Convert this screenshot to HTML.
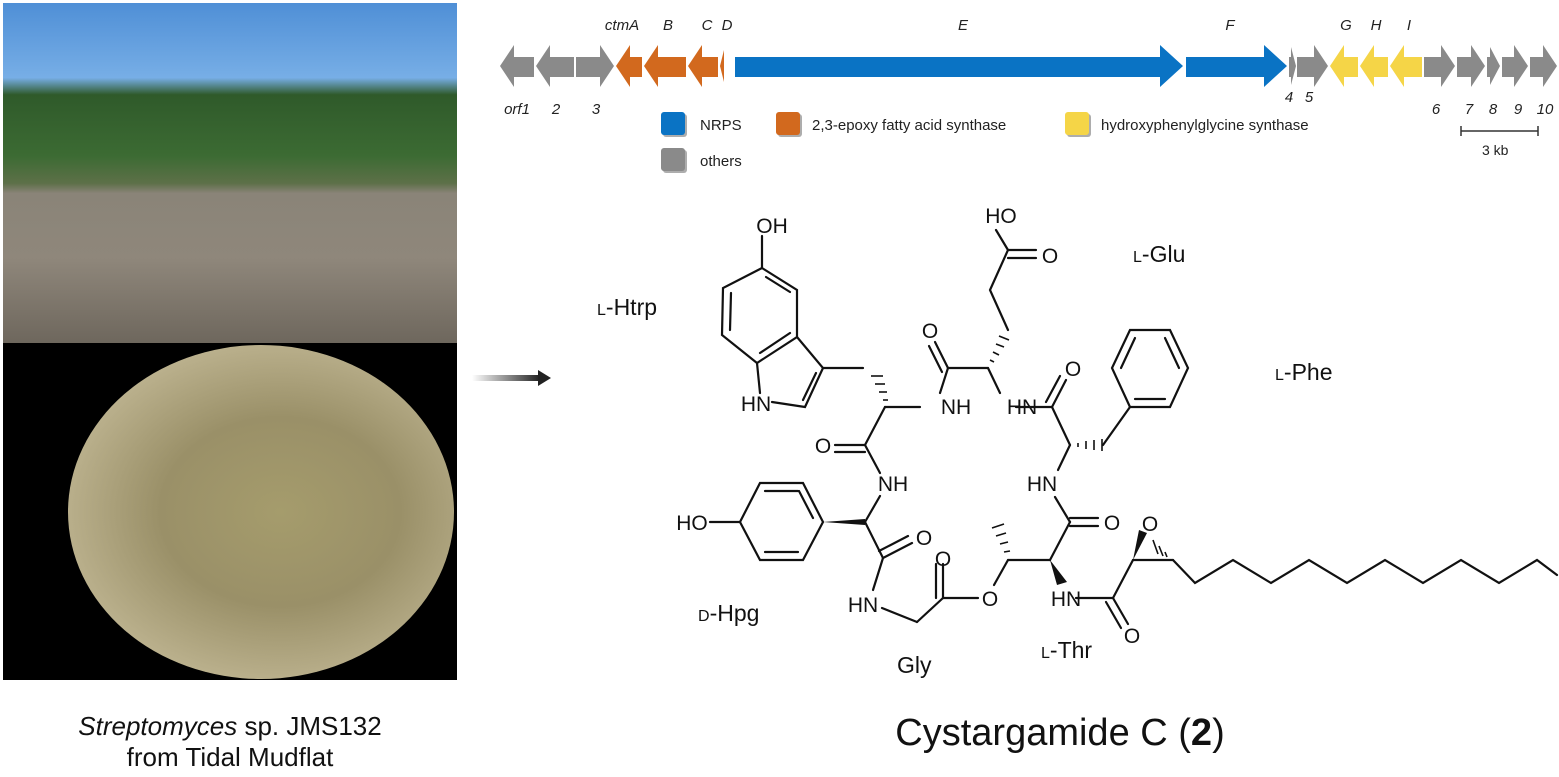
<!DOCTYPE html>
<html><head><meta charset="utf-8"><style>
body{margin:0;width:1559px;height:777px;background:#fff;overflow:hidden;position:relative;font-family:"Liberation Sans",sans-serif}
.ph1{position:absolute;left:3px;top:3px;width:454px;height:340px;background:linear-gradient(180deg,#4f8fd6 0%,#77aee6 22%,#2f5a2a 27%,#3c6b33 45%,#5d7048 53%,#8a8478 56%,#8f877b 75%,#6e675d 100%)}
.ph2{position:absolute;left:3px;top:343px;width:454px;height:337px;background:#000;overflow:hidden}
.dish{position:absolute;left:65px;top:2px;width:386px;height:334px;border-radius:50%;background:radial-gradient(ellipse at 55% 50%,#a59c6c 0%,#9a9068 40%,#b8ae8a 70%,#c9c0a0 88%,#ddd 96%,#888 100%)}
.cap{position:absolute;left:0;width:460px;text-align:center;font-size:26px;color:#111}
</style></head><body>
<div class="ph1"></div>
<div class="ph2"><div class="dish"></div></div>
<div class="cap" style="top:711px"><i>Streptomyces</i> sp. JMS132</div>
<div class="cap" style="top:742px">from Tidal Mudflat</div>
<div style="position:absolute;left:780px;top:712px;width:560px;text-align:center;font-size:38px;color:#111">Cystargamide C (<b>2</b>)</div>
<svg width="1559" height="777" style="position:absolute;left:0;top:0" xmlns="http://www.w3.org/2000/svg">
<defs><linearGradient id="ag" x1="0" x2="1"><stop offset="0" stop-color="#fff"/><stop offset="1" stop-color="#222"/></linearGradient></defs>
<rect x="472" y="375" width="68" height="6" fill="url(#ag)"/>
<polygon points="538,370 551,378 538,386" fill="#222"/>
<g stroke="none">
<g fill="#8a8a8a">
<polygon points="500,66 514,45 514,57 534,57 534,77 514,77 514,87"/>
<polygon points="536,66 550,45 550,57 574,57 574,77 550,77 550,87"/>
<polygon points="576,57 600,57 600,45 614,66 600,87 600,77 576,77"/>
<polygon points="1289,57 1291,57 1291,47 1296,66 1291,85 1291,77 1289,77"/>
<polygon points="1297,57 1314,57 1314,45 1328,66 1314,87 1314,77 1297,77"/>
<polygon points="1424,57 1441,57 1441,45 1455,66 1441,87 1441,77 1424,77"/>
<polygon points="1457,57 1471,57 1471,45 1485,66 1471,87 1471,77 1457,77"/>
<polygon points="1487,57 1490,57 1490,47 1500,66 1490,85 1490,77 1487,77"/>
<polygon points="1502,57 1514,57 1514,45 1528,66 1514,87 1514,77 1502,77"/>
<polygon points="1530,57 1543,57 1543,45 1557,66 1543,87 1543,77 1530,77"/>
</g>
<g fill="#d2691e">
<polygon points="616,66 630,45 630,57 642,57 642,77 630,77 630,87"/>
<polygon points="644,66 658,45 658,57 686,57 686,77 658,77 658,87"/>
<polygon points="688,66 702,45 702,57 718,57 718,77 702,77 702,87"/>
<polygon points="720,66 724,50 724,82"/>
</g>
<g fill="#0a73c4">
<polygon points="735,57 1160,57 1160,45 1183,66 1160,87 1160,77 735,77"/>
<polygon points="1186,57 1264,57 1264,45 1287,66 1264,87 1264,77 1186,77"/>
</g>
<g fill="#f5d547">
<polygon points="1330,66 1344,45 1344,57 1358,57 1358,77 1344,77 1344,87"/>
<polygon points="1360,66 1374,45 1374,57 1388,57 1388,77 1374,77 1374,87"/>
<polygon points="1390,66 1404,45 1404,57 1422,57 1422,77 1404,77 1404,87"/>
</g>
<rect x="663" y="114" width="24" height="23" rx="3" fill="#333" opacity=".4"/>
<rect x="661" y="112" width="24" height="23" rx="3" fill="#0a73c4"/>
<rect x="778" y="114" width="24" height="23" rx="3" fill="#333" opacity=".4"/>
<rect x="776" y="112" width="24" height="23" rx="3" fill="#d2691e"/>
<rect x="1067" y="114" width="24" height="23" rx="3" fill="#333" opacity=".4"/>
<rect x="1065" y="112" width="24" height="23" rx="3" fill="#f5d547"/>
<rect x="663" y="150" width="24" height="23" rx="3" fill="#333" opacity=".4"/>
<rect x="661" y="148" width="24" height="23" rx="3" fill="#8a8a8a"/>
</g>
<g font-family="Liberation Sans, sans-serif" font-size="15" fill="#222">
<text x="700" y="130">NRPS</text>
<text x="812" y="130">2,3-epoxy  fatty  acid  synthase</text>
<text x="1101" y="130">hydroxyphenylglycine  synthase</text>
<text x="700" y="166">others</text>
<text x="1482" y="155" font-size="14">3 kb</text>
</g>
<g stroke="#333" stroke-width="1.5"><line x1="1461" y1="131" x2="1538" y2="131"/><line x1="1461" y1="126" x2="1461" y2="136"/><line x1="1538" y1="126" x2="1538" y2="136"/></g>
<g font-family="Liberation Sans, sans-serif" font-size="15" font-style="italic" fill="#222" text-anchor="middle">
<text x="622" y="30">ctmA</text><text x="668" y="30">B</text><text x="707" y="30">C</text><text x="727" y="30">D</text><text x="963" y="30">E</text><text x="1230" y="30">F</text><text x="1346" y="30">G</text><text x="1376" y="30">H</text><text x="1409" y="30">I</text>
<text x="517" y="114">orf1</text><text x="556" y="114">2</text><text x="596" y="114">3</text><text x="1289" y="102">4</text><text x="1309" y="102">5</text>
<text x="1436" y="114">6</text><text x="1469" y="114">7</text><text x="1493" y="114">8</text><text x="1518" y="114">9</text><text x="1545" y="114">10</text>
</g>
<g stroke="#111" stroke-width="2.2" fill="none" stroke-linecap="round">
<line x1="762" y1="236" x2="762" y2="268"/>
<polyline points="762,268 797,290 797,337 757,363 722,335 723,288 762,268"/>
<line x1="766" y1="277" x2="790" y2="292"/><line x1="790" y1="333" x2="760" y2="353"/><line x1="730" y1="330" x2="731" y2="293"/>
<polyline points="797,337 823,368 805,407 772,402"/>
<line x1="757" y1="363" x2="760" y2="393"/>
<line x1="816" y1="373" x2="803" y2="400"/>
<line x1="823" y1="368" x2="863" y2="368"/>
<line x1="885" y1="407" x2="920" y2="407"/>
<line x1="885" y1="407" x2="865" y2="445"/>
<line x1="865" y1="445" x2="835" y2="445"/><line x1="865" y1="452" x2="835" y2="452"/>
<line x1="865" y1="445" x2="880" y2="473"/>
<line x1="940" y1="393" x2="948" y2="368"/>
<line x1="948" y1="368" x2="988" y2="368"/>
<line x1="948" y1="368" x2="935" y2="342"/><line x1="942" y1="372" x2="929" y2="346"/>
<line x1="988" y1="368" x2="1000" y2="393"/>
<polyline points="1008,330 990,290 1008,250 996,230"/>
<line x1="1008" y1="250" x2="1036" y2="250"/><line x1="1008" y1="258" x2="1036" y2="258"/>
<line x1="1016" y1="407" x2="1052" y2="407"/>
<line x1="1052" y1="407" x2="1066" y2="380"/><line x1="1046" y1="402" x2="1060" y2="376"/>
<line x1="1052" y1="407" x2="1070" y2="445"/>
<line x1="1070" y1="445" x2="1058" y2="470"/>
<line x1="1103" y1="445" x2="1130" y2="407"/>
<polyline points="1130,407 1112,368 1130,330 1170,330 1188,368 1170,407 1130,407"/>
<line x1="1121" y1="368" x2="1135" y2="338"/><line x1="1165" y1="338" x2="1179" y2="368"/><line x1="1135" y1="399" x2="1165" y2="399"/>
<line x1="1055" y1="497" x2="1070" y2="522"/>
<line x1="1070" y1="518" x2="1098" y2="518"/><line x1="1070" y1="526" x2="1098" y2="526"/>
<line x1="1070" y1="522" x2="1050" y2="560"/>
<line x1="1050" y1="560" x2="1008" y2="560"/>
<line x1="1008" y1="560" x2="994" y2="585"/>
<line x1="978" y1="598" x2="943" y2="598"/>
<line x1="943" y1="598" x2="943" y2="564"/><line x1="936" y1="598" x2="936" y2="564"/>
<line x1="943" y1="598" x2="917" y2="622"/>
<line x1="917" y1="622" x2="882" y2="608"/>
<line x1="873" y1="590" x2="883" y2="558"/>
<line x1="883" y1="558" x2="865" y2="522"/>
<line x1="883" y1="558" x2="912" y2="543"/><line x1="879" y1="551" x2="908" y2="536"/>
<line x1="865" y1="522" x2="880" y2="496"/>
<polyline points="823,522 803,483 760,483 740,522 760,560 803,560 823,522"/>
<line x1="799" y1="491" x2="813" y2="518"/><line x1="765" y1="491" x2="798" y2="491"/><line x1="765" y1="552" x2="798" y2="552"/>
<line x1="740" y1="522" x2="710" y2="522"/>
<line x1="1076" y1="598" x2="1113" y2="598"/>
<line x1="1113" y1="598" x2="1128" y2="624"/><line x1="1106" y1="602" x2="1121" y2="628"/>
<line x1="1113" y1="598" x2="1133" y2="560"/>
<line x1="1133" y1="560" x2="1173" y2="560"/>
<polyline points="1173,560 1195,583 1233,560 1271,583 1309,560 1347,583 1385,560 1423,583 1461,560 1499,583 1537,560 1557,575"/>
</g>
<g fill="#111">
<polygon points="823,522 865,519 865,525"/>
<polygon points="1050,560 1057,585 1067,582"/>
<polygon points="1133,560 1147,533 1139,530"/>
</g>
<g stroke="#111" stroke-width="1.6">
<line x1="883" y1="400" x2="888" y2="400"/><line x1="879" y1="392" x2="887" y2="392"/><line x1="875" y1="384" x2="885" y2="384"/><line x1="871" y1="376" x2="883" y2="376"/>
<line x1="990" y1="360" x2="994" y2="362"/><line x1="993" y1="352" x2="999" y2="355"/><line x1="996" y1="344" x2="1004" y2="347"/><line x1="999" y1="336" x2="1009" y2="340"/>
<line x1="1078" y1="443" x2="1078" y2="447"/><line x1="1086" y1="441" x2="1086" y2="449"/><line x1="1094" y1="440" x2="1094" y2="450"/><line x1="1102" y1="439" x2="1102" y2="451"/>
<line x1="1004" y1="552" x2="1010" y2="551"/><line x1="1000" y1="544" x2="1008" y2="542"/><line x1="996" y1="536" x2="1006" y2="533"/><line x1="992" y1="528" x2="1004" y2="524"/>
<line x1="1165" y1="552" x2="1167" y2="557"/><line x1="1159" y1="546" x2="1163" y2="556"/><line x1="1153" y1="540" x2="1158" y2="554"/>
</g>
<g font-family="Liberation Sans, sans-serif" font-size="21" fill="#111" text-anchor="middle">
<text x="772" y="233">OH</text>
<text x="1001" y="223">HO</text>
<text x="1050" y="263">O</text>
<text x="930" y="338">O</text>
<text x="1073" y="376">O</text>
<text x="956" y="414">NH</text>
<text x="1022" y="414">HN</text>
<text x="756" y="411">HN</text>
<text x="823" y="453">O</text>
<text x="893" y="491">NH</text>
<text x="1042" y="491">HN</text>
<text x="692" y="530">HO</text>
<text x="924" y="545">O</text>
<text x="1112" y="530">O</text>
<text x="1150" y="531">O</text>
<text x="943" y="566">O</text>
<text x="990" y="606">O</text>
<text x="863" y="612">HN</text>
<text x="1066" y="606">HN</text>
<text x="1132" y="643">O</text>
</g>
<g font-family="Liberation Sans, sans-serif" font-size="23" fill="#111">
<text x="597" y="315"><tspan font-size="16">L</tspan>-Htrp</text>
<text x="1133" y="262"><tspan font-size="16">L</tspan>-Glu</text>
<text x="1275" y="380"><tspan font-size="16">L</tspan>-Phe</text>
<text x="698" y="621"><tspan font-size="16">D</tspan>-Hpg</text>
<text x="897" y="673">Gly</text>
<text x="1041" y="658"><tspan font-size="16">L</tspan>-Thr</text>
</g>
</svg>
</body></html>
